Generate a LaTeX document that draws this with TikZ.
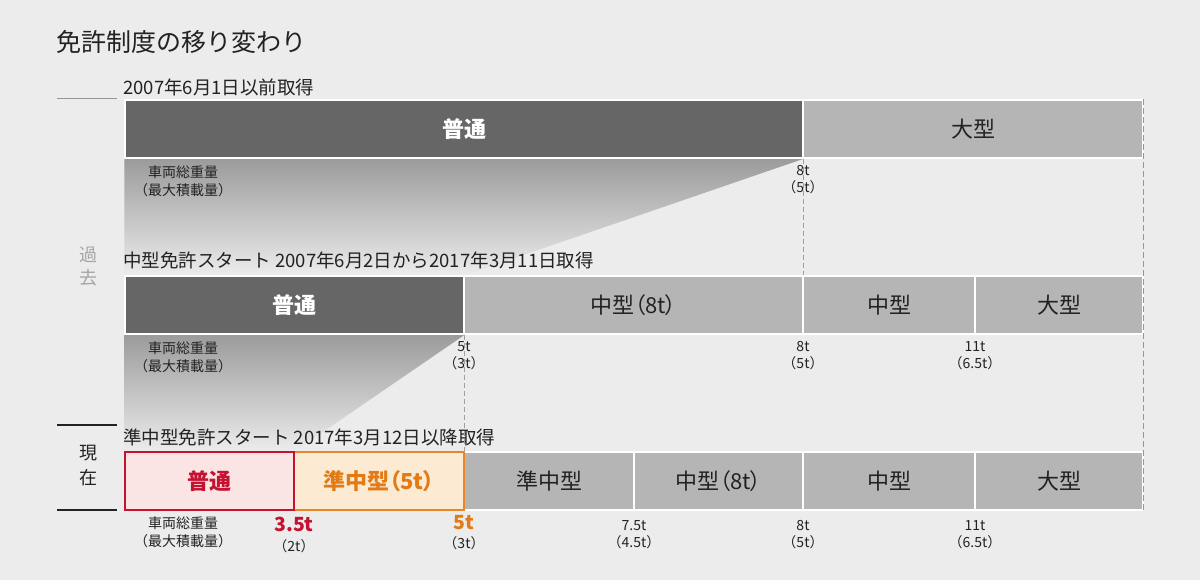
\documentclass[tikz,border=0pt]{standalone}
\usepackage{fontspec}
\setmainfont{Noto Sans CJK JP}
\newfontfamily\paltfont{Noto Sans CJK JP}[RawFeature=+palt]
\newcommand{\lpar}{{\paltfont （}}
\newcommand{\rpar}{{\paltfont ）}}
\definecolor{bg}{RGB}{236,236,236}
\definecolor{txt}{RGB}{34,34,34}
\definecolor{darkband}{RGB}{102,102,102}
\definecolor{lightband}{RGB}{181,181,181}
\definecolor{crimson}{RGB}{196,18,48}
\definecolor{pinkfill}{RGB}{250,228,228}
\definecolor{orangeline}{RGB}{232,134,40}
\definecolor{orangetxt}{RGB}{226,122,22}
\definecolor{orangefill}{RGB}{252,234,210}
\definecolor{pastgray}{RGB}{165,165,165}
\definecolor{dashgray}{RGB}{160,160,160}
\definecolor{edgegray}{RGB}{150,150,150}
\definecolor{fadetop}{RGB}{155,155,155}
\definecolor{sidegray}{RGB}{150,150,150}
\pgfdeclarelayer{back}
\pgfsetlayers{back,main}
\begin{document}
\begin{tikzpicture}[x=1pt,y=-1pt,
  cell/.style={draw=white, line width=1.5pt, minimum height=58pt, inner sep=0pt,
    font=\fontsize{22}{22}\selectfont},
  graycell/.style={cell, fill=lightband, text=txt},
  darkcell/.style={cell, fill=darkband, text=white, font=\fontsize{22}{22}\selectfont\bfseries},
  pinkcell/.style={cell, draw=crimson, fill=pinkfill, text=crimson, font=\fontsize{22}{22}\selectfont\bfseries},
  orangecell/.style={cell, draw=orangeline, fill=orangefill, text=orangetxt, font=\fontsize{22}{22}\selectfont\bfseries},
  rowlabel/.style={anchor=west, inner sep=0pt, text=txt, font=\fontsize{18.5}{18.5}\selectfont},
  wlabel/.style={align=center, inner sep=0pt, text=txt, font=\fontsize{14}{17}\selectfont},
  wtwo/.style={align=center, inner sep=0pt, text=txt, font=\fontsize{14}{18}\selectfont},
  boldred/.style={inner sep=0pt, text=crimson, font=\fontsize{19.5}{19.5}\selectfont\bfseries},
  boldorange/.style={inner sep=0pt, text=orangetxt, font=\fontsize{19.5}{19.5}\selectfont\bfseries},
  dashline/.style={draw=dashgray, line width=0.8pt, dash pattern=on 5pt off 3pt},
  edgedash/.style={draw=edgegray, line width=1.2pt, dash pattern=on 6pt off 3pt},
  sideline/.style={line width=1.5pt, draw=txt},
  fade/.style={top color=fadetop, bottom color=bg, draw=none}]

\begin{pgfonlayer}{back}
\fill[bg] (0,0) rectangle (1200,580);
\end{pgfonlayer}
\useasboundingbox (0,0) rectangle (1200,580);

% title
\node[anchor=west, inner sep=0pt, text=txt, font=\fontsize{25}{25}\selectfont] (title) at (56,42) {免許制度の移り変わり};

% side marks
\coordinate (s1a) at (57,99);  \coordinate (s1b) at (117,99);
\coordinate (s2a) at (57,425); \coordinate (s2b) at (117,425);
\coordinate (s3a) at (57,510); \coordinate (s3b) at (117,510);
\draw[line width=1pt, draw=sidegray] (s1a) -- (s1b);
\draw[sideline] (s2a) -- (s2b);
\draw[sideline] (s3a) -- (s3b);
\node[align=center, inner sep=0pt, text=pastgray, font=\fontsize{18}{23}\selectfont] (past) at (88,266) {過\\去};
\node[align=center, inner sep=0pt, text=txt, font=\fontsize{18}{25}\selectfont] (now) at (88,466) {現\\在};

% row labels
\node[rowlabel] (l1) at (123,87) {2007年6月1日以前取得};
\node[rowlabel] (l2) at (123,260) {中型免許スタート 2007年6月2日から2017年3月11日取得};
\node[rowlabel] (l3) at (123,437) {準中型免許スタート 2017年3月12日以降取得};

% row 1
\node[darkcell, minimum width=678pt] (r1a) at (464,129) {普通};
\node[graycell, minimum width=340pt] (r1b) at (973,129) {大型};

% row 2
\node[darkcell, minimum width=339pt] (r2a) at (294.5,305) {普通};
\node[graycell, minimum width=339pt] (r2b) at (633.5,305) {中型\lpar 8t\rpar};
\node[graycell, minimum width=172pt] (r2c) at (889,305) {中型};
\node[graycell, minimum width=168pt] (r2d) at (1059,305) {大型};

% row 3
\node[graycell, minimum width=170pt] (r3c) at (549,481) {準中型};
\node[graycell, minimum width=169pt] (r3d) at (718.5,481) {中型\lpar 8t\rpar};
\node[graycell, minimum width=172pt] (r3e) at (889,481) {中型};
\node[graycell, minimum width=168pt] (r3f) at (1059,481) {大型};
\node[orangecell, minimum width=170pt] (r3b) at (379,481) {準中型\lpar 5t\rpar};
\node[pinkcell, minimum width=169pt] (r3a) at (209.5,481) {普通};

% fades
\begin{pgfonlayer}{back}
\shade[fade] (r1a.south west) -- (r1a.south east) -- (r2a.north east) -- (r2a.north west) -- cycle;
\shade[fade] (r2a.south west) -- (r2a.south east) -- (r3a.north east) -- (r3a.north west) -- cycle;
\end{pgfonlayer}

% dashed guides
\draw[dashline] (r1a.south east) -- (r2b.north east);
\draw[dashline] (r2a.south east) -- (r3b.north east);
\draw[edgedash] (r1b.north east) -- (r3f.south east);

% weight labels row 1
\node[wtwo] (w1a) at (183,181) {車両総重量\\（最大積載量）};
\node[wlabel] (w1b) at (803,180) {8t\\（5t）};

% row 2
\node[wtwo] (w2a) at (183,357) {車両総重量\\（最大積載量）};
\node[wlabel] (w2b) at (464,356) {5t\\（3t）};
\node[wlabel] (w2c) at (803,356) {8t\\（5t）};
\node[wlabel] (w2d) at (975,356) {11t\\（6.5t）};

% row 3
\node[wtwo] (w3a) at (183,532) {車両総重量\\（最大積載量）};
\node[boldred] (w3b) at (294,524) {3.5t};
\node[wlabel] (w3b2) at (294,546) {（2t）};
\node[boldorange] (w3c) at (464,523) {5t};
\node[wlabel] (w3c2) at (464,543) {（3t）};
\node[wlabel] (w3d) at (634,535) {7.5t\\（4.5t）};
\node[wlabel] (w3e) at (803,535) {8t\\（5t）};
\node[wlabel] (w3f) at (975,535) {11t\\（6.5t）};
\end{tikzpicture}
\end{document}
